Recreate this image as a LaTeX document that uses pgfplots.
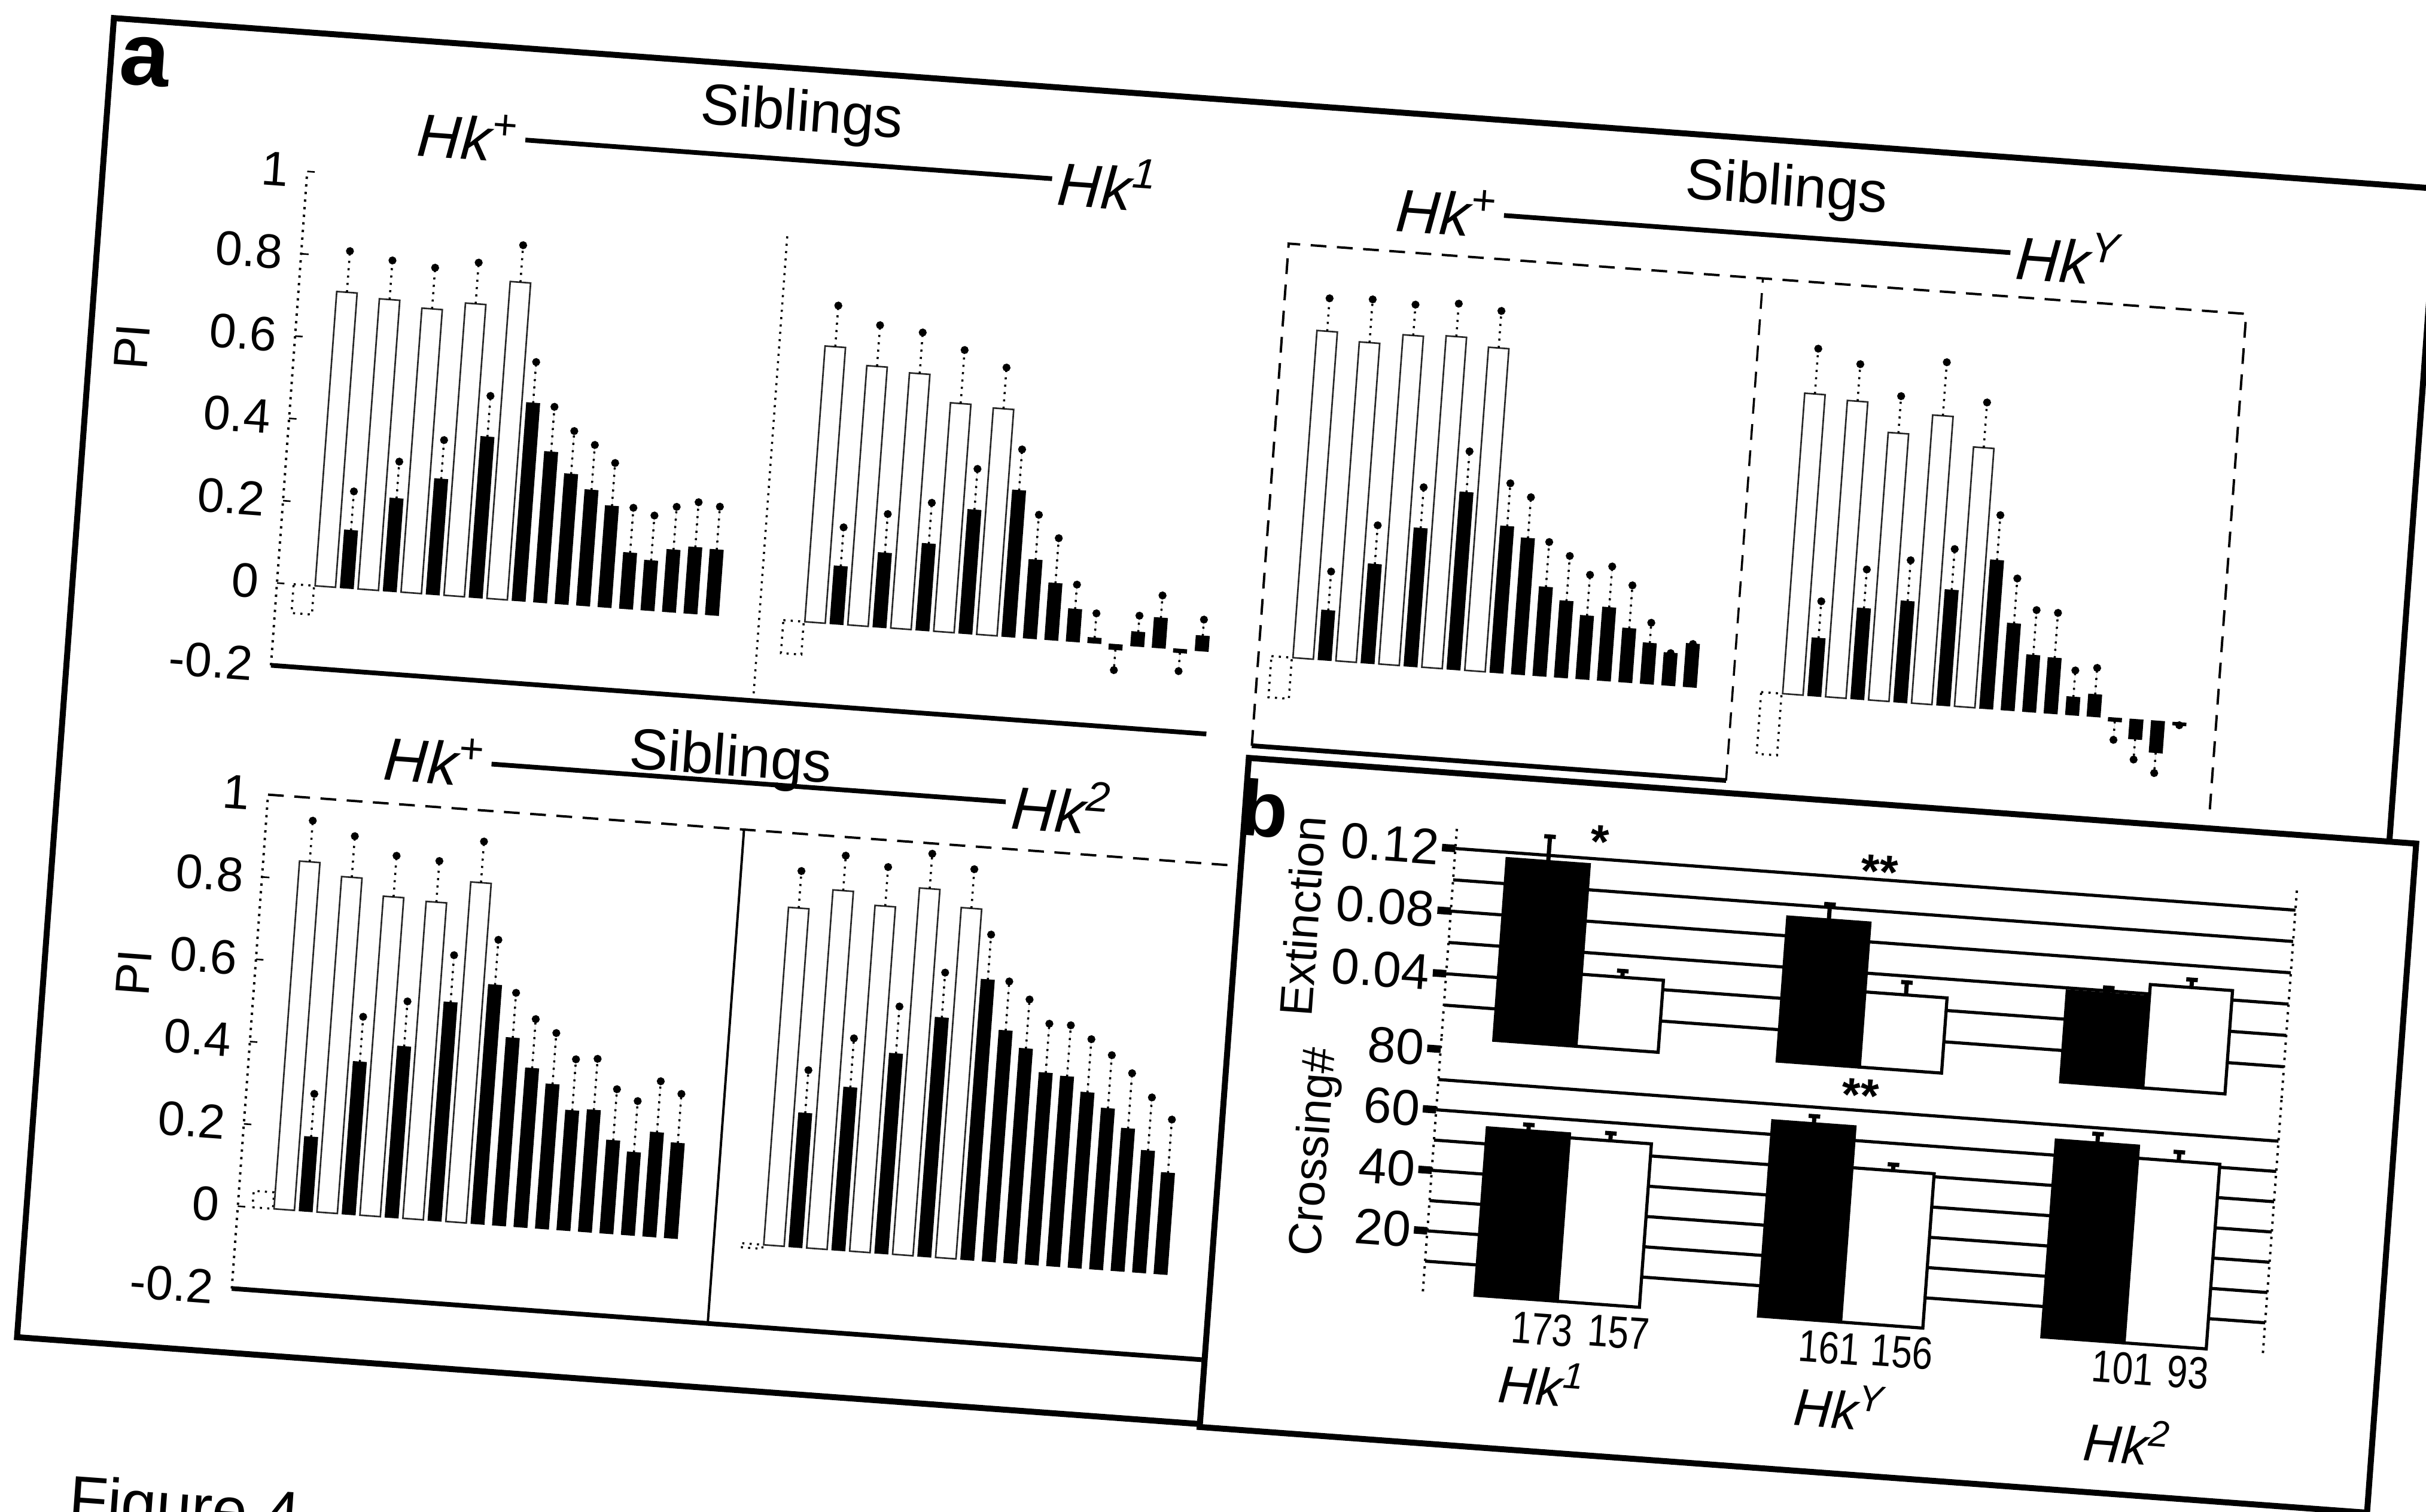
\documentclass[border=0pt]{standalone}
\usepackage{fontspec}
\setmainfont{Liberation Sans}
\usepackage{graphicx}
\usepackage{pgfplots}
\pgfplotsset{compat=1.18}
\newcommand\fs[1]{\fontsize{#1}{#1}\selectfont}
\newcommand\Hk[1]{\textit{Hk\textsuperscript{#1}}}
\newcommand\nar[1]{\scalebox{0.82}[1]{#1}}
\pgfplotsset{
  noarrows/.style={
    every outer x axis line/.append style={-},
    every outer y axis line/.append style={-},
    every inner x axis line/.append style={-},
    every inner y axis line/.append style={-},
    axis line style={-}},
  panela/.style={
    x=1.44mm, y=27.6mm, anchor=south west, clip=false,
    xtick=\empty,
    ytick={-0.2,0,0.2,0.4,0.6,0.8,1},
    yticklabels={-0.2,0,0.2,0.4,0.6,0.8,1},
    yticklabel style={font=\fs{9.2}},
    major tick length=0.5mm, tick style={black, line width=0.3pt},
  },
  errs/.style={error bars/y dir=plus, error bars/y explicit,
    error bars/error mark=*,
    error bars/error mark options={solid, black, fill=black, mark size=0.55pt},
    error bars/error bar style={black, densely dotted, line width=0.4pt}},
  blackbar/.style={ybar, bar shift=0pt, bar width=0.6, fill=black, draw=black, line width=0.2pt, errs},
  blackneg/.style={blackbar, error bars/y dir=minus},
  openbar/.style={ybar, bar shift=0pt, bar width=0.95, fill=none, draw=black!85, line width=0.3pt, errs},
  pretest/.style={ybar, bar shift=0pt, bar width=0.95, fill=none, draw=black, densely dotted, line width=0.4pt},
  panelb/.style={
    x=19mm, anchor=south west, clip=false, xmin=0.526, xmax=3.49, ymin=0,
    axis x line=none, axis y line*=left, noarrows,
    y axis line style={densely dotted, line width=0.45pt},
    xtick=\empty, ymajorgrids, yminorgrids,
    major grid style={black, line width=0.6pt}, minor grid style={black, line width=0.6pt},
    major tick length=0.9mm, minor tick length=0pt, tick align=outside,
    tick style={black, line width=0.5mm},
    yticklabel style={font=\fs{9.6}, inner sep=0.4pt},
  },
  bbar/.style={ybar, bar shift=0pt, bar width=0.29, fill=black, draw=black, line width=0.6pt,
    error bars/y dir=plus, error bars/y explicit,
    error bars/error bar style={black, line width=0.8pt},
    error bars/error mark options={rotate=90, black, line width=0.8pt, mark size=1.1pt}},
  wbar/.style={bbar, fill=white},
}
\begin{document}
\begin{tikzpicture}
\fill[white] (0,0) rectangle (162.2mm,-101.08mm);
\begin{scope}[transform canvas={rotate around={-4.2:(81.08mm,-50.52mm)}}]
% frame of panel a
\begin{scope}[x=0.04mm,y=-0.04mm]
\draw[line width=0.4mm] (105,168) rectangle (4000,2380);
\end{scope}

% ---------- top left: Hk+ / Hk1 ----------
\begin{axis}[panela, at={(17.84mm,-49.12mm)}, xmin=-1.25, xmax=42.3, ymin=-0.2, ymax=1.0,
  axis x line*=bottom, axis y line*=left, noarrows,
  x axis line style={line width=0.9pt},
  y axis line style={densely dotted, line width=0.45pt}]
\addplot[pretest] coordinates {(0,-0.07) (22.8,-0.08)};
\addplot[openbar] coordinates {(1,0.715)+-(0,0.10) (3,0.705)+-(0,0.095) (5,0.69)+-(0,0.10) (7,0.71)+-(0,0.10) (9,0.77)+-(0,0.09)
  (23.8,0.67)+-(0,0.10) (25.8,0.63)+-(0,0.10) (27.8,0.62)+-(0,0.10) (29.8,0.555)+-(0,0.13) (31.8,0.55)+-(0,0.10)};
\addplot[blackbar] coordinates {(2,0.14)+-(0,0.095) (4,0.225)+-(0,0.09) (6,0.28)+-(0,0.095) (8,0.39)+-(0,0.10) (10,0.48)+-(0,0.10)
  (11,0.365)+-(0,0.11) (12,0.315)+-(0,0.105) (13,0.28)+-(0,0.11) (14,0.245)+-(0,0.105) (15,0.135)+-(0,0.11)
  (16,0.12)+-(0,0.11) (17,0.15)+-(0,0.105) (18,0.16)+-(0,0.11) (19,0.158)+-(0,0.105)
  (24.8,0.14)+-(0,0.095) (26.8,0.18)+-(0,0.095) (28.8,0.21)+-(0,0.10) (30.8,0.30)+-(0,0.10) (32.8,0.355)+-(0,0.10)
  (33.8,0.19)+-(0,0.11) (34.8,0.137)+-(0,0.11) (35.8,0.078)+-(0,0.06) (36.8,0.012)+-(0,0.06)
  (38.8,0.034)+-(0,0.04) (39.8,0.072)+-(0,0.055) (41.8,0.036)+-(0,0.04)};
\addplot[blackneg] coordinates {(37.8,-0.012)+-(0,0.05) (40.8,-0.008)+-(0,0.045)};
\draw[densely dotted, line width=0.4pt] (axis cs:21.2,-0.2) -- (axis cs:21.2,0.93);
\end{axis}

% ---------- top right: Hk+ / HkY ----------
\begin{axis}[panela, at={(83.64mm,-49.68mm)}, xmin=-1.08, xmax=43.5, ymin=-0.22, ymax=1.0,
  axis x line=none, axis y line=none, ytick=\empty]
\addplot[pretest] coordinates {(0,-0.1) (22.8,-0.15)};
\addplot[openbar] coordinates {(1,0.795)+-(0,0.08) (3,0.775)+-(0,0.105) (5,0.80)+-(0,0.075) (7,0.805)+-(0,0.08) (9,0.785)+-(0,0.09)
  (23.8,0.73)+-(0,0.11) (25.8,0.72)+-(0,0.09) (27.8,0.65)+-(0,0.09) (29.8,0.70)+-(0,0.13) (31.8,0.63)+-(0,0.11)};
\addplot[blackbar] coordinates {(2,0.12)+-(0,0.095) (4,0.24)+-(0,0.095) (6,0.335)+-(0,0.10) (8,0.43)+-(0,0.10) (10,0.355)+-(0,0.105)
  (11,0.33)+-(0,0.10) (12,0.215)+-(0,0.11) (13,0.185)+-(0,0.11) (14,0.153)+-(0,0.10) (15,0.177)+-(0,0.10)
  (16,0.13)+-(0,0.105) (17,0.098)+-(0,0.05) (18,0.078)+-(0,0.0) (19,0.104)+-(0,0.0)
  (24.8,0.14)+-(0,0.09) (26.8,0.22)+-(0,0.095) (28.8,0.245)+-(0,0.10) (30.8,0.28)+-(0,0.10) (32.8,0.36)+-(0,0.11)
  (33.8,0.21)+-(0,0.11) (34.8,0.137)+-(0,0.11) (35.8,0.134)+-(0,0.11) (36.8,0.043)+-(0,0.065) (37.8,0.053)+-(0,0.065)};
\addplot[blackneg] coordinates {(38.8,-0.008)+-(0,0.045) (39.8,-0.047)+-(0,0.05) (40.8,-0.076)+-(0,0.05) (41.8,-0.006)+-(0,0.0)};
\draw[densely dashed, line width=0.45pt] (rel axis cs:0,0) -- (rel axis cs:0,1) -- (rel axis cs:1,1) -- (rel axis cs:1,0);
\draw[densely dashed, line width=0.4pt] (axis cs:21,-0.22) -- (axis cs:21,1.0);
\draw[line width=0.9pt] (rel axis cs:0,0) -- (axis cs:21,-0.22);
\end{axis}

% ---------- bottom left: Hk+ / Hk2 ----------
\begin{axis}[panela, at={(18.28mm,-90.88mm)}, xmin=-1.16, xmax=44, ymin=-0.2, ymax=1.0,
  axis x line*=bottom, axis y line*=left, noarrows,
  x axis line style={line width=0.9pt},
  y axis line style={densely dotted, line width=0.45pt}]
\addplot[pretest] coordinates {(0,0.04) (22.8,-0.01)};
\addplot[openbar] coordinates {(1,0.845)+-(0,0.10) (3,0.815)+-(0,0.10) (5,0.775)+-(0,0.10) (7,0.77)+-(0,0.10) (9,0.825)+-(0,0.10)
  (23.8,0.82)+-(0,0.09) (25.8,0.87)+-(0,0.085) (27.8,0.84)+-(0,0.095) (29.8,0.89)+-(0,0.085) (31.8,0.85)+-(0,0.095)};
\addplot[blackbar] coordinates {(2,0.18)+-(0,0.105) (4,0.37)+-(0,0.11) (6,0.415)+-(0,0.11) (8,0.53)+-(0,0.115) (10,0.58)+-(0,0.11)
  (11,0.455)+-(0,0.11) (12,0.385)+-(0,0.12) (13,0.35)+-(0,0.125) (14,0.29)+-(0,0.125) (15,0.295)+-(0,0.125)
  (16,0.225)+-(0,0.125) (17,0.20)+-(0,0.125) (18,0.252)+-(0,0.125) (19,0.23)+-(0,0.12)
  (24.8,0.325)+-(0,0.105) (26.8,0.395)+-(0,0.12) (28.8,0.485)+-(0,0.115) (30.8,0.58)+-(0,0.11) (32.8,0.68)+-(0,0.11)
  (33.8,0.56)+-(0,0.12) (34.8,0.52)+-(0,0.12) (35.8,0.465)+-(0,0.12) (36.8,0.46)+-(0,0.125) (37.8,0.425)+-(0,0.13)
  (38.8,0.39)+-(0,0.13) (39.8,0.345)+-(0,0.135) (40.8,0.295)+-(0,0.13) (41.8,0.245)+-(0,0.13)};
\draw[densely dashed, line width=0.45pt] (rel axis cs:0,1) -- (rel axis cs:1,1);
\draw[line width=0.45pt] (axis cs:21,-0.2) -- (axis cs:21,1.0);
\end{axis}

% panel b box
\begin{scope}[x=0.04mm,y=-0.04mm]
\draw[line width=0.4mm, fill=white] (2088,1263) rectangle (4045,2385);
\end{scope}

% ---------- panel b: Extinction ----------
\begin{axis}[panelb, at={(97.72mm,-68.14mm)}, y=105mm, ymax=0.135,
  ytick={0.04,0.08,0.12}, yticklabels={0.04,0.08,0.12}, minor ytick={0.02,0.06,0.10}]
\addplot[bbar] coordinates {(0.855,0.116)+-(0,0.016) (1.855,0.092)+-(0,0.010) (2.855,0.058)+-(0,0.004)};
\addplot[wbar] coordinates {(1.145,0.046)+-(0,0.004) (2.145,0.048)+-(0,0.008) (3.145,0.066)+-(0,0.005)};
\draw[densely dotted, line width=0.45pt] (rel axis cs:1,0) -- (rel axis cs:1,1);
\node[font=\fs{9}\bfseries] at (axis cs:1.03,0.131) {*};
\node[font=\fs{9}\bfseries] at (axis cs:2.02,0.125) {**};
\end{axis}

% ---------- panel b: Crossing# ----------
\begin{axis}[panelb, at={(97.72mm,-85.24mm)}, y=0.203mm, ymax=84,
  ytick={20,40,60}, yticklabels={20,40,60}, minor ytick={10,30,50,70},
  extra y ticks={80}, extra y tick labels={80}, extra y tick style={grid=none}]
\addplot[bbar] coordinates {(0.855,55.3)+-(0,2) (1.855,64.5)+-(0,2.5) (2.855,65)+-(0,3)};
\addplot[wbar] coordinates {(1.145,54)+-(0,2.5) (2.145,51)+-(0,2) (3.145,61)+-(0,3)};
\draw[densely dotted, line width=0.45pt] (rel axis cs:1,0) -- (rel axis cs:1,1);
\node[font=\fs{9}\bfseries] at (axis cs:2.01,75) {**};
\end{axis}

% ---------- texts ----------
\begin{scope}[x=0.04mm,y=-0.04mm]
\node[font=\fs{17}\bfseries] at (162,237) {a};
\node[font=\fs{15}\bfseries, inner sep=0pt] at (2120,1345) {b};
% headers
\node[font=\fs{11}] at (1264,247) {Siblings};
\draw[line width=0.9pt] (806,321) -- (1689,321);
\node[font=\fs{11.5}, anchor=east, inner sep=1pt] at (806,321) {\Hk{+}};
\node[font=\fs{11.5}, anchor=west, inner sep=1pt] at (1689,321) {\Hk{1}};
\node[font=\fs{11}] at (2915,251) {Siblings};
\draw[line width=0.9pt] (2447,327) -- (3296,327);
\node[font=\fs{11.5}, anchor=east, inner sep=1pt] at (2447,327) {\Hk{+}};
\node[font=\fs{11.5}, anchor=west, inner sep=1pt] at (3296,327) {\Hk{Y}};
\node[font=\fs{11}] at (1224,1331) {Siblings};
\draw[line width=0.9pt] (826,1366) -- (1688,1366);
\node[font=\fs{11.5}, anchor=east, inner sep=1pt] at (826,1366) {\Hk{+}};
\node[font=\fs{11.5}, anchor=west, inner sep=1pt] at (1688,1366) {\Hk{2}};
% PI labels
\node[font=\fs{9.2}, rotate=90] at (175,714) {PI};
\node[font=\fs{9.2}, rotate=90] at (255,1758) {PI};
% panel b labels
\node[font=\fs{8.8}, rotate=90, inner sep=0pt] at (2197,1520) {Extinction};
\node[font=\fs{8.8}, rotate=90, inner sep=0pt] at (2248,1912) {Crossing\#};
\node[font=\fs{8.6}, inner sep=0pt] at (2647,2180) {\nar{173}};
\node[font=\fs{8.6}, inner sep=0pt] at (2775,2176) {\nar{157}};
\node[font=\fs{8.6}, inner sep=0pt] at (3128,2176) {\nar{161}};
\node[font=\fs{8.6}, inner sep=0pt] at (3250,2174) {\nar{156}};
\node[font=\fs{8.6}, inner sep=0pt] at (3620,2174) {\nar{101}};
\node[font=\fs{8.6}, inner sep=0pt] at (3729,2173) {\nar{93}};
\node[font=\fs{10}, inner sep=0pt] at (2654,2270) {\Hk{1}};
\node[font=\fs{10}, inner sep=0pt] at (3153,2272) {\Hk{Y}};
\node[font=\fs{10}, inner sep=0pt] at (3637,2295) {\Hk{2}};
\node[font=\fs{12}, anchor=north west, inner sep=0pt] at (210,2600) {Figure 4};
\end{scope}
\end{scope}
\pgfresetboundingbox
\path[use as bounding box] (0,0) rectangle (162.2mm,-101.08mm);
\end{tikzpicture}
\end{document}
